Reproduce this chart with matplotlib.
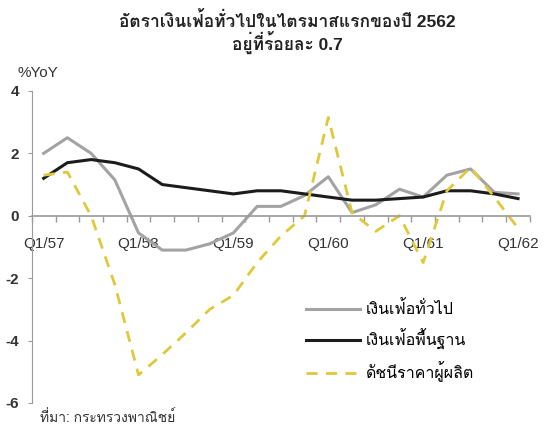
import matplotlib
matplotlib.use('Agg')
import matplotlib.pyplot as plt
from matplotlib import font_manager as fm
from matplotlib.ft2font import FT2Font
from matplotlib.ticker import FixedLocator, NullFormatter

# ข้อมูลรายไตรมาส Q1/57 - Q1/62 (%YoY)
quarters = ['Q1/57', 'Q2/57', 'Q3/57', 'Q4/57',
            'Q1/58', 'Q2/58', 'Q3/58', 'Q4/58',
            'Q1/59', 'Q2/59', 'Q3/59', 'Q4/59',
            'Q1/60', 'Q2/60', 'Q3/60', 'Q4/60',
            'Q1/61', 'Q2/61', 'Q3/61', 'Q4/61',
            'Q1/62']
headline = [2.0, 2.5, 2.0, 1.15, -0.55, -1.1, -1.1, -0.9, -0.55, 0.3, 0.3,
            0.65, 1.25, 0.1, 0.35, 0.85, 0.6, 1.3, 1.5, 0.75, 0.7]
core = [1.2, 1.7, 1.8, 1.7, 1.5, 1.0, 0.9, 0.8, 0.7, 0.8, 0.8,
        0.7, 0.6, 0.5, 0.5, 0.55, 0.6, 0.8, 0.8, 0.7, 0.55]
ppi = [1.3, 1.4, 0.0, -2.2, -5.1, -4.45, -3.75, -3.0, -2.55, -1.5, -0.65,
       0.0, 3.15, 0.1, -0.5, 0.0, -1.5, 0.8, 1.55, 0.6, -0.4]
labels = ['เงินเฟ้อทั่วไป', 'เงินเฟ้อพื้นฐาน', 'ดัชนีราคาผู้ผลิต']
yticks = [-6, -4, -2, 0, 2, 4]


# หาฟอนต์ที่มีอักษรไทย
def find_thai_font():
    for f in fm.fontManager.ttflist:
        try:
            if 0x0E01 in FT2Font(f.fname).get_charmap():
                return f.name
        except Exception:
            pass
    return None


thai = find_thai_font()
fams = ['Liberation Sans']
if thai:
    fams.append(thai)
fams.append('DejaVu Sans')
plt.rcParams['font.family'] = fams
plt.rcParams['axes.unicode_minus'] = False

fig = plt.figure(figsize=(5.48, 4.33), dpi=100)
ax = fig.add_axes([0.058, 0.0693, 0.909, 0.7207])

x = list(range(len(quarters)))
ax.plot(x, headline, color='#a3a3a3', lw=2.2, label=labels[0])
ax.plot(x, core, color='#1c1c1c', lw=2.2, label=labels[1])
ax.plot(x, ppi, color='#e0c83c', lw=2.0, ls=(0, (4, 3)), label=labels[2])

ax.set_xlim(-0.5, len(quarters) - 0.5)
ax.set_ylim(-6, 4)

for s in ['top', 'right']:
    ax.spines[s].set_visible(False)
ax.spines['left'].set_color('#9a9a9a')
ax.spines['bottom'].set_position(('data', 0))
ax.spines['bottom'].set_color('#9a9a9a')
ax.spines['bottom'].set_linewidth(1.2)

ax.set_yticks(yticks)
ax.tick_params(axis='y', length=3, color='#9a9a9a', labelsize=11,
               labelcolor='#333333', pad=6)
for t in ax.get_yticklabels():
    t.set_fontweight('bold')

ax.set_xticks(x[::4])
ax.set_xticklabels(quarters[::4])
ax.xaxis.set_minor_locator(FixedLocator([i - 0.5 for i in range(len(quarters) + 1)]))
ax.xaxis.set_minor_formatter(NullFormatter())
ax.tick_params(axis='x', which='major', length=0, pad=15, labelsize=11,
               labelcolor='#333333')
ax.tick_params(axis='x', which='minor', length=4, color='#9a9a9a', width=1)

fig.text(0.525, 0.953, 'อัตราเงินเฟ้อทั่วไปในไตรมาสแรกของปี 2562',
         ha='center', va='center', fontsize=12.5, fontweight='bold', color='#222222')
fig.text(0.525, 0.902, 'อยู่ที่ร้อยละ 0.7',
         ha='center', va='center', fontsize=12.5, fontweight='bold', color='#222222')
fig.text(0.032, 0.831, '%YoY', ha='left', va='center', fontsize=11, color='#333333')
fig.text(0.073, 0.035, 'ที่มา: กระทรวงพาณิชย์', ha='left', va='center',
         fontsize=10, color='#333333')

ax.legend(loc='upper left', bbox_to_anchor=(0.532, 0.34), bbox_transform=fig.transFigure,
          frameon=False, handlelength=3.4, labelspacing=0.72, fontsize=11.5,
          handletextpad=0.35)

fig.savefig('out.png', dpi=100)
